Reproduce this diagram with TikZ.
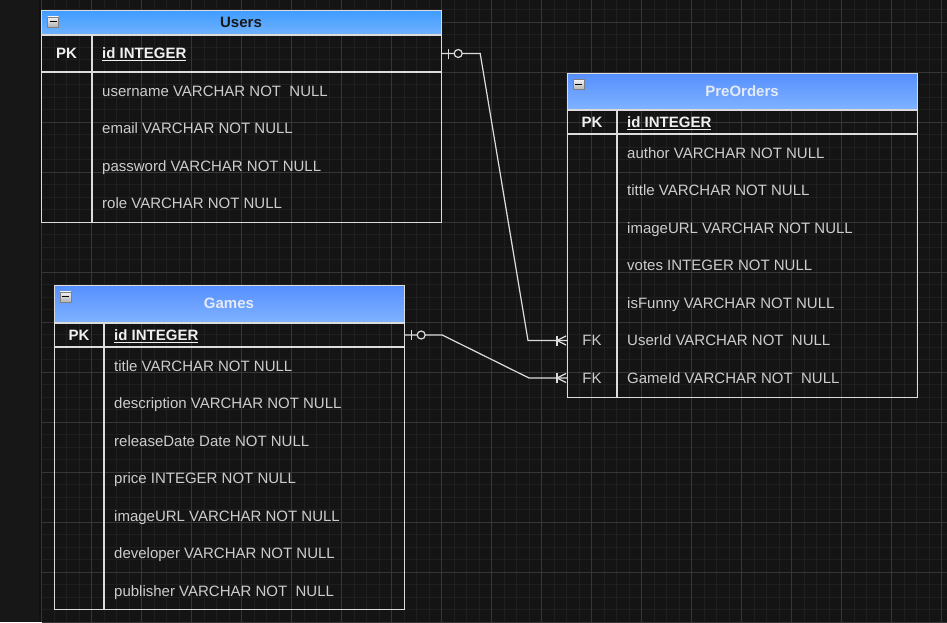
\documentclass[tikz,border=0pt]{standalone}
\usepackage{fontspec}
\setmainfont{Liberation Sans}
\usetikzlibrary{positioning}

\definecolor{canvas}{HTML}{141414}
\definecolor{margin}{HTML}{171717}
\definecolor{seam}{HTML}{111111}
\definecolor{minorgrid}{HTML}{1F1F1F}
\definecolor{majorgrid}{HTML}{363636}
\definecolor{edge}{HTML}{DCDCDC}
\definecolor{rowtext}{HTML}{CDCDCD}
\definecolor{keytext}{HTML}{F0F0F0}
\definecolor{usertop}{HTML}{3E9CFF}
\definecolor{userbot}{HTML}{72B2FF}
\definecolor{headtop}{HTML}{558FFF}
\definecolor{headbot}{HTML}{80B3FF}
\definecolor{titletext}{HTML}{E4EAF6}
\definecolor{icongray}{HTML}{B4B4B4}

\tikzset{
  frame/.style={draw=edge, line width=1.2pt, anchor=north west, inner sep=0pt},
  rule/.style={draw=edge, line width=1.2pt},
  field/.style={anchor=west, inner sep=0pt, text height=10.8pt, text depth=0pt,
    text=rowtext, font=\fontsize{15}{17}\selectfont},
  keyfield/.style={field, text=keytext, font=\bfseries\fontsize{15}{17}\selectfont},
  keycol/.style={keyfield, anchor=center},
  fkcol/.style={field, anchor=center},
  tabletitle/.style={inner sep=0pt, text height=10.8pt, text depth=0pt,
    font=\bfseries\fontsize{15}{17}\selectfont, text=titletext},
  conn/.style={draw=edge, line width=1.2pt},
  pics/minusicon/.style={code={
    \filldraw[draw=gray, top color=white!85!icongray, bottom color=icongray] (0,0) rectangle (11,-10);
    \draw[black, line width=1.2pt] (2,-5) -- (9,-5);
  }},
  pics/onezero/.style={code={
    \draw[conn] (6,-5) -- (6,5);
    \filldraw[draw=edge, fill=canvas, line width=1.2pt] (16,0) circle (4);
  }},
  pics/onemany/.style={code={
    \draw[conn] (-10,-5) -- (-10,5);
    \draw[conn] (-1,4.5) -- (-10,0) -- (-1,-4.5);
  }},
}

\begin{document}
\begin{tikzpicture}[x=1pt, y=1pt]
  \useasboundingbox (0,0) rectangle (947,-622);
  \fill[canvas] (0,0) rectangle (947,-622);
  \fill[margin] (0,0) rectangle (38.5,-622);
  \fill[seam] (38.5,0) rectangle (41,-622);

  % grid
  \foreach \i in {0,...,72}
    \draw[minorgrid, line width=1pt] (41.7+\i*12.5,0) -- (41.7+\i*12.5,-622);
  \foreach \i in {-1,...,49}
    \draw[minorgrid, line width=1pt] (41.7,-22.3-\i*12.5) -- (947,-22.3-\i*12.5);
  \foreach \i in {0,...,18}
    \draw[majorgrid, line width=1pt] (41.7+\i*50,0) -- (41.7+\i*50,-622);
  \foreach \i in {0,...,12}
    \draw[majorgrid, line width=1pt] (41.7,-22.3-\i*50) -- (947,-22.3-\i*50);

  % Users
  \fill[top color=usertop, bottom color=userbot] (41,-10) rectangle (441,-35);
  \node[frame, minimum width=400pt, minimum height=212pt] (users) at (41,-10) {};
  \draw[rule] (41,-35) -- (441,-35);
  \draw[rule] (41,-72) -- (441,-72);
  \draw[rule] (92,-35) -- (92,-222);
  \pic at (47.5,-16.7) {minusicon};
  \node[tabletitle, text=black!90] (users-title) at (241,-22.5) {Users};
  \node[keycol] (users-pk) at (66.5,-53.5) {PK};
  \node[keyfield] (users-id) at (102,-53.5) {\underline{id INTEGER}};
  \foreach \txt [count=\n] in {username VARCHAR NOT\ \ NULL, email VARCHAR NOT NULL,
      password VARCHAR NOT NULL, role VARCHAR NOT NULL}
    \node[field] (users-f\n) at (102,-53.5-\n*37.5) {\txt};

  % PreOrders
  \fill[top color=headtop, bottom color=headbot] (567,-73) rectangle (917,-110);
  \node[frame, minimum width=350pt, minimum height=324pt] (preorders) at (567,-73) {};
  \draw[rule] (567,-110) -- (917,-110);
  \draw[rule] (567,-134) -- (917,-134);
  \draw[rule] (617,-110) -- (617,-397);
  \pic at (573,-79.3) {minusicon};
  \node[tabletitle] (preorders-title) at (742,-91.5) {PreOrders};
  \node[keycol] (preorders-pk) at (592,-122) {PK};
  \node[keyfield] (preorders-id) at (627,-122) {\underline{id INTEGER}};
  \foreach \txt [count=\n] in {author VARCHAR NOT NULL, tittle VARCHAR NOT NULL,
      imageURL VARCHAR NOT NULL, votes INTEGER NOT NULL, isFunny VARCHAR NOT NULL,
      UserId VARCHAR NOT\ \ NULL, GameId VARCHAR NOT\ \ NULL}
    \node[field] (preorders-f\n) at (627,-115.5-\n*37.5) {\txt};
  \node[fkcol] (preorders-fk1) at (592,-340.5) {FK};
  \node[fkcol] (preorders-fk2) at (592,-378) {FK};

  % Games
  \fill[top color=headtop, bottom color=headbot] (54,-285) rectangle (404,-323);
  \node[frame, minimum width=350pt, minimum height=324pt] (games) at (54,-285) {};
  \draw[rule] (54,-323) -- (404,-323);
  \draw[rule] (54,-347) -- (404,-347);
  \draw[rule] (104,-323) -- (104,-609);
  \pic at (60,-291.7) {minusicon};
  \node[tabletitle] (games-title) at (229,-303.5) {Games};
  \node[keycol] (games-pk) at (79,-335) {PK};
  \node[keyfield] (games-id) at (114,-335) {\underline{id INTEGER}};
  \foreach \txt [count=\n] in {title VARCHAR NOT NULL, description VARCHAR NOT NULL,
      releaseDate Date NOT NULL, price INTEGER NOT NULL, imageURL VARCHAR NOT NULL,
      developer VARCHAR NOT NULL, publisher VARCHAR NOT\ \ NULL}
    \node[field] (games-f\n) at (114,-328.5-\n*37.5) {\txt};

  % relations
  \draw[conn] (users-id -| users.east) -- ++(38,0)
    -- ([xshift=-39pt]preorders-f6 -| preorders.west) -- (preorders-f6 -| preorders.west);
  \draw[conn] (games-id -| games.east) -- ++(37,0)
    -- ([xshift=-38pt]preorders-f7 -| preorders.west) -- (preorders-f7 -| preorders.west);
  \pic at (users-id -| users.east) {onezero};
  \pic at (games-id -| games.east) {onezero};
  \pic at (preorders-f6 -| preorders.west) {onemany};
  \pic at (preorders-f7 -| preorders.west) {onemany};
\end{tikzpicture}
\end{document}
